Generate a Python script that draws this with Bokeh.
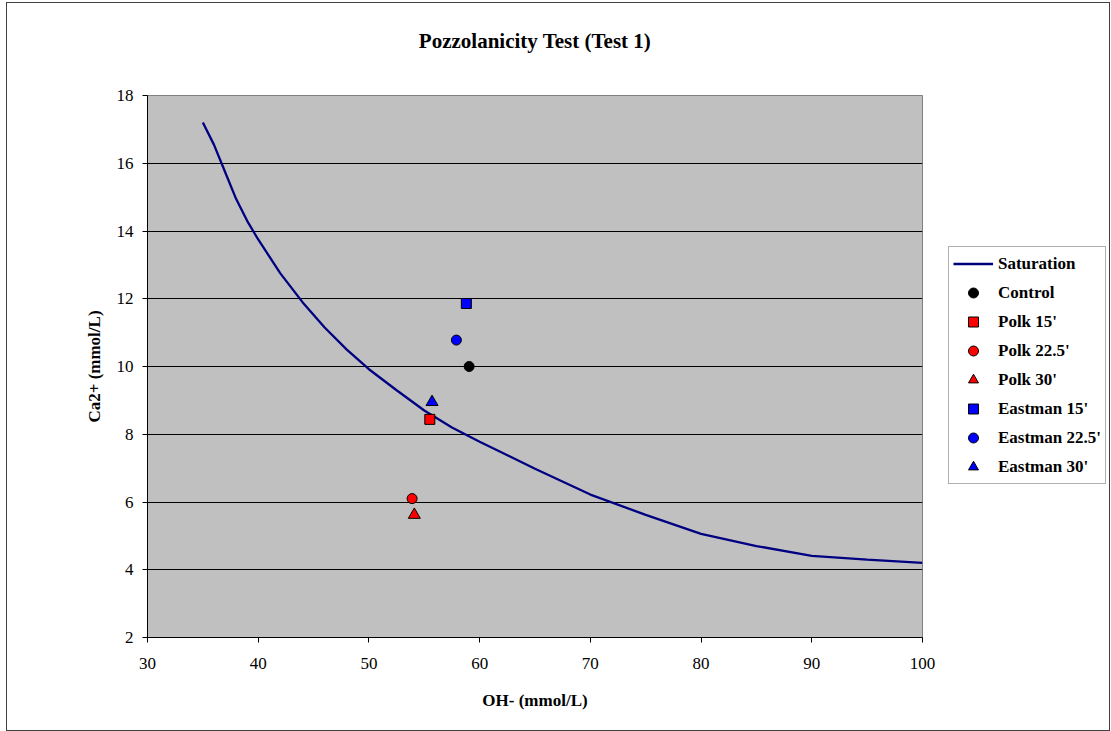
from bokeh.plotting import figure
from bokeh.models import Legend, LegendItem, Title, FixedTicker
from bokeh.layouts import row
from bokeh.embed import file_html
from bokeh.resources import INLINE

# Courbe de saturation
oh_sat = [35, 36, 37, 38, 39, 40, 42, 44, 46, 48, 50, 52.5, 55, 57.5, 60,
          65, 70, 75, 80, 85, 90, 95, 100]
ca_sat = [17.2, 16.55, 15.75, 14.95, 14.3, 13.75, 12.75, 11.9, 11.15, 10.5, 9.92,
          9.3, 8.7, 8.2, 7.78, 6.98, 6.22, 5.62, 5.06, 4.7, 4.41, 4.3, 4.2]

# Points de mesure : OH-, Ca2+
series_names = ["Control", "Polk 15'", "Polk 22.5'", "Polk 30'",
                "Eastman 15'", "Eastman 22.5'", "Eastman 30'"]
oh_pts = [59.05, 55.5, 53.9, 54.1, 58.8, 57.9, 55.7]
ca_pts = [10.0, 8.44, 6.1, 5.62, 11.86, 10.78, 8.95]

markers = ["circle", "square", "circle", "triangle", "square", "circle", "triangle"]
colors = ["black", "red", "red", "red", "blue", "blue", "blue"]
serif = "Liberation Serif"


def add_series(fig, visible=True):
    # trace la courbe et les points, renvoie les items de légende
    out = []
    sat = fig.line(oh_sat, ca_sat, line_color="#000080", line_width=2.3, visible=visible)
    out.append(LegendItem(label="Saturation", renderers=[sat]))
    for name, x, y, m, c in zip(series_names, oh_pts, ca_pts, markers, colors):
        size = 12 if m == "triangle" else 10
        r = fig.scatter([x], [y], marker=m, size=size, fill_color=c,
                        line_color="black", line_width=1, visible=visible)
        out.append(LegendItem(label=name, renderers=[r]))
    return out


p = figure(frame_width=775, frame_height=542, x_range=(30, 100), y_range=(2, 18),
           output_backend="svg", toolbar_location=None,
           min_border_left=140, min_border_right=25,
           min_border_top=92, min_border_bottom=93)

p.background_fill_color = "#c0c0c0"
p.border_fill_color = "white"
p.outline_line_color = "#808080"
p.outline_line_width = 1

# titre + espace vide entre titre et cadre
p.add_layout(Title(text=" ", text_font_size="36px", standoff=0), "above")
p.add_layout(Title(text="Pozzolanicity Test (Test 1)", align="center",
                   text_font=serif, text_font_size="21px", text_font_style="bold",
                   text_color="black", standoff=0), "above")

p.xgrid.visible = False
p.ygrid.grid_line_color = "black"
p.ygrid.grid_line_width = 1

p.xaxis.ticker = FixedTicker(ticks=list(range(30, 101, 10)))
p.yaxis.ticker = FixedTicker(ticks=list(range(2, 19, 2)))
for ax in (p.xaxis, p.yaxis):
    ax.axis_line_color = "black"
    ax.major_tick_line_color = "black"
    ax.major_tick_out = 5
    ax.major_tick_in = 0
    ax.minor_tick_line_color = None
    ax.major_label_text_font = serif
    ax.major_label_text_font_size = "17px"
    ax.major_label_text_color = "black"
    ax.axis_label_text_font = serif
    ax.axis_label_text_font_size = "17px"
    ax.axis_label_text_font_style = "bold"
    ax.axis_label_text_color = "black"

p.xaxis.axis_label = "OH- (mmol/L)"
p.yaxis.axis_label = "Ca2+ (mmol/L)"
p.xaxis.major_label_standoff = 15
p.xaxis.axis_label_standoff = 19
p.yaxis.major_label_standoff = 9
p.yaxis.axis_label_standoff = 10

add_series(p)

# figure séparée pour la légende (à droite du cadre)
pl = figure(width=162, height=727, x_range=(30, 100), y_range=(2, 18),
            output_backend="svg", toolbar_location=None, min_border=0)
pl.axis.visible = False
pl.grid.visible = False
pl.outline_line_color = None
pl.background_fill_color = "white"
pl.border_fill_color = "white"

legend = Legend(items=add_series(pl, visible=False), location=(1, 153))
legend.label_text_font = serif
legend.label_text_font_size = "17px"
legend.label_text_font_style = "bold"
legend.label_text_color = "black"
legend.glyph_width = 40
legend.glyph_height = 25
legend.label_height = 25
legend.label_standoff = 5
legend.spacing = 4
legend.padding = 4
legend.margin = 0
legend.inactive_fill_alpha = 0
legend.click_policy = "none"
legend.border_line_color = "#606060"
legend.border_line_width = 1
legend.background_fill_color = "white"
pl.add_layout(legend)

layout = row(p, pl, spacing=0,
             styles={"border": "1px solid #404040", "margin-left": "6px", "margin-top": "2px"})

open("out.html", "w").write(file_html(layout, INLINE))
